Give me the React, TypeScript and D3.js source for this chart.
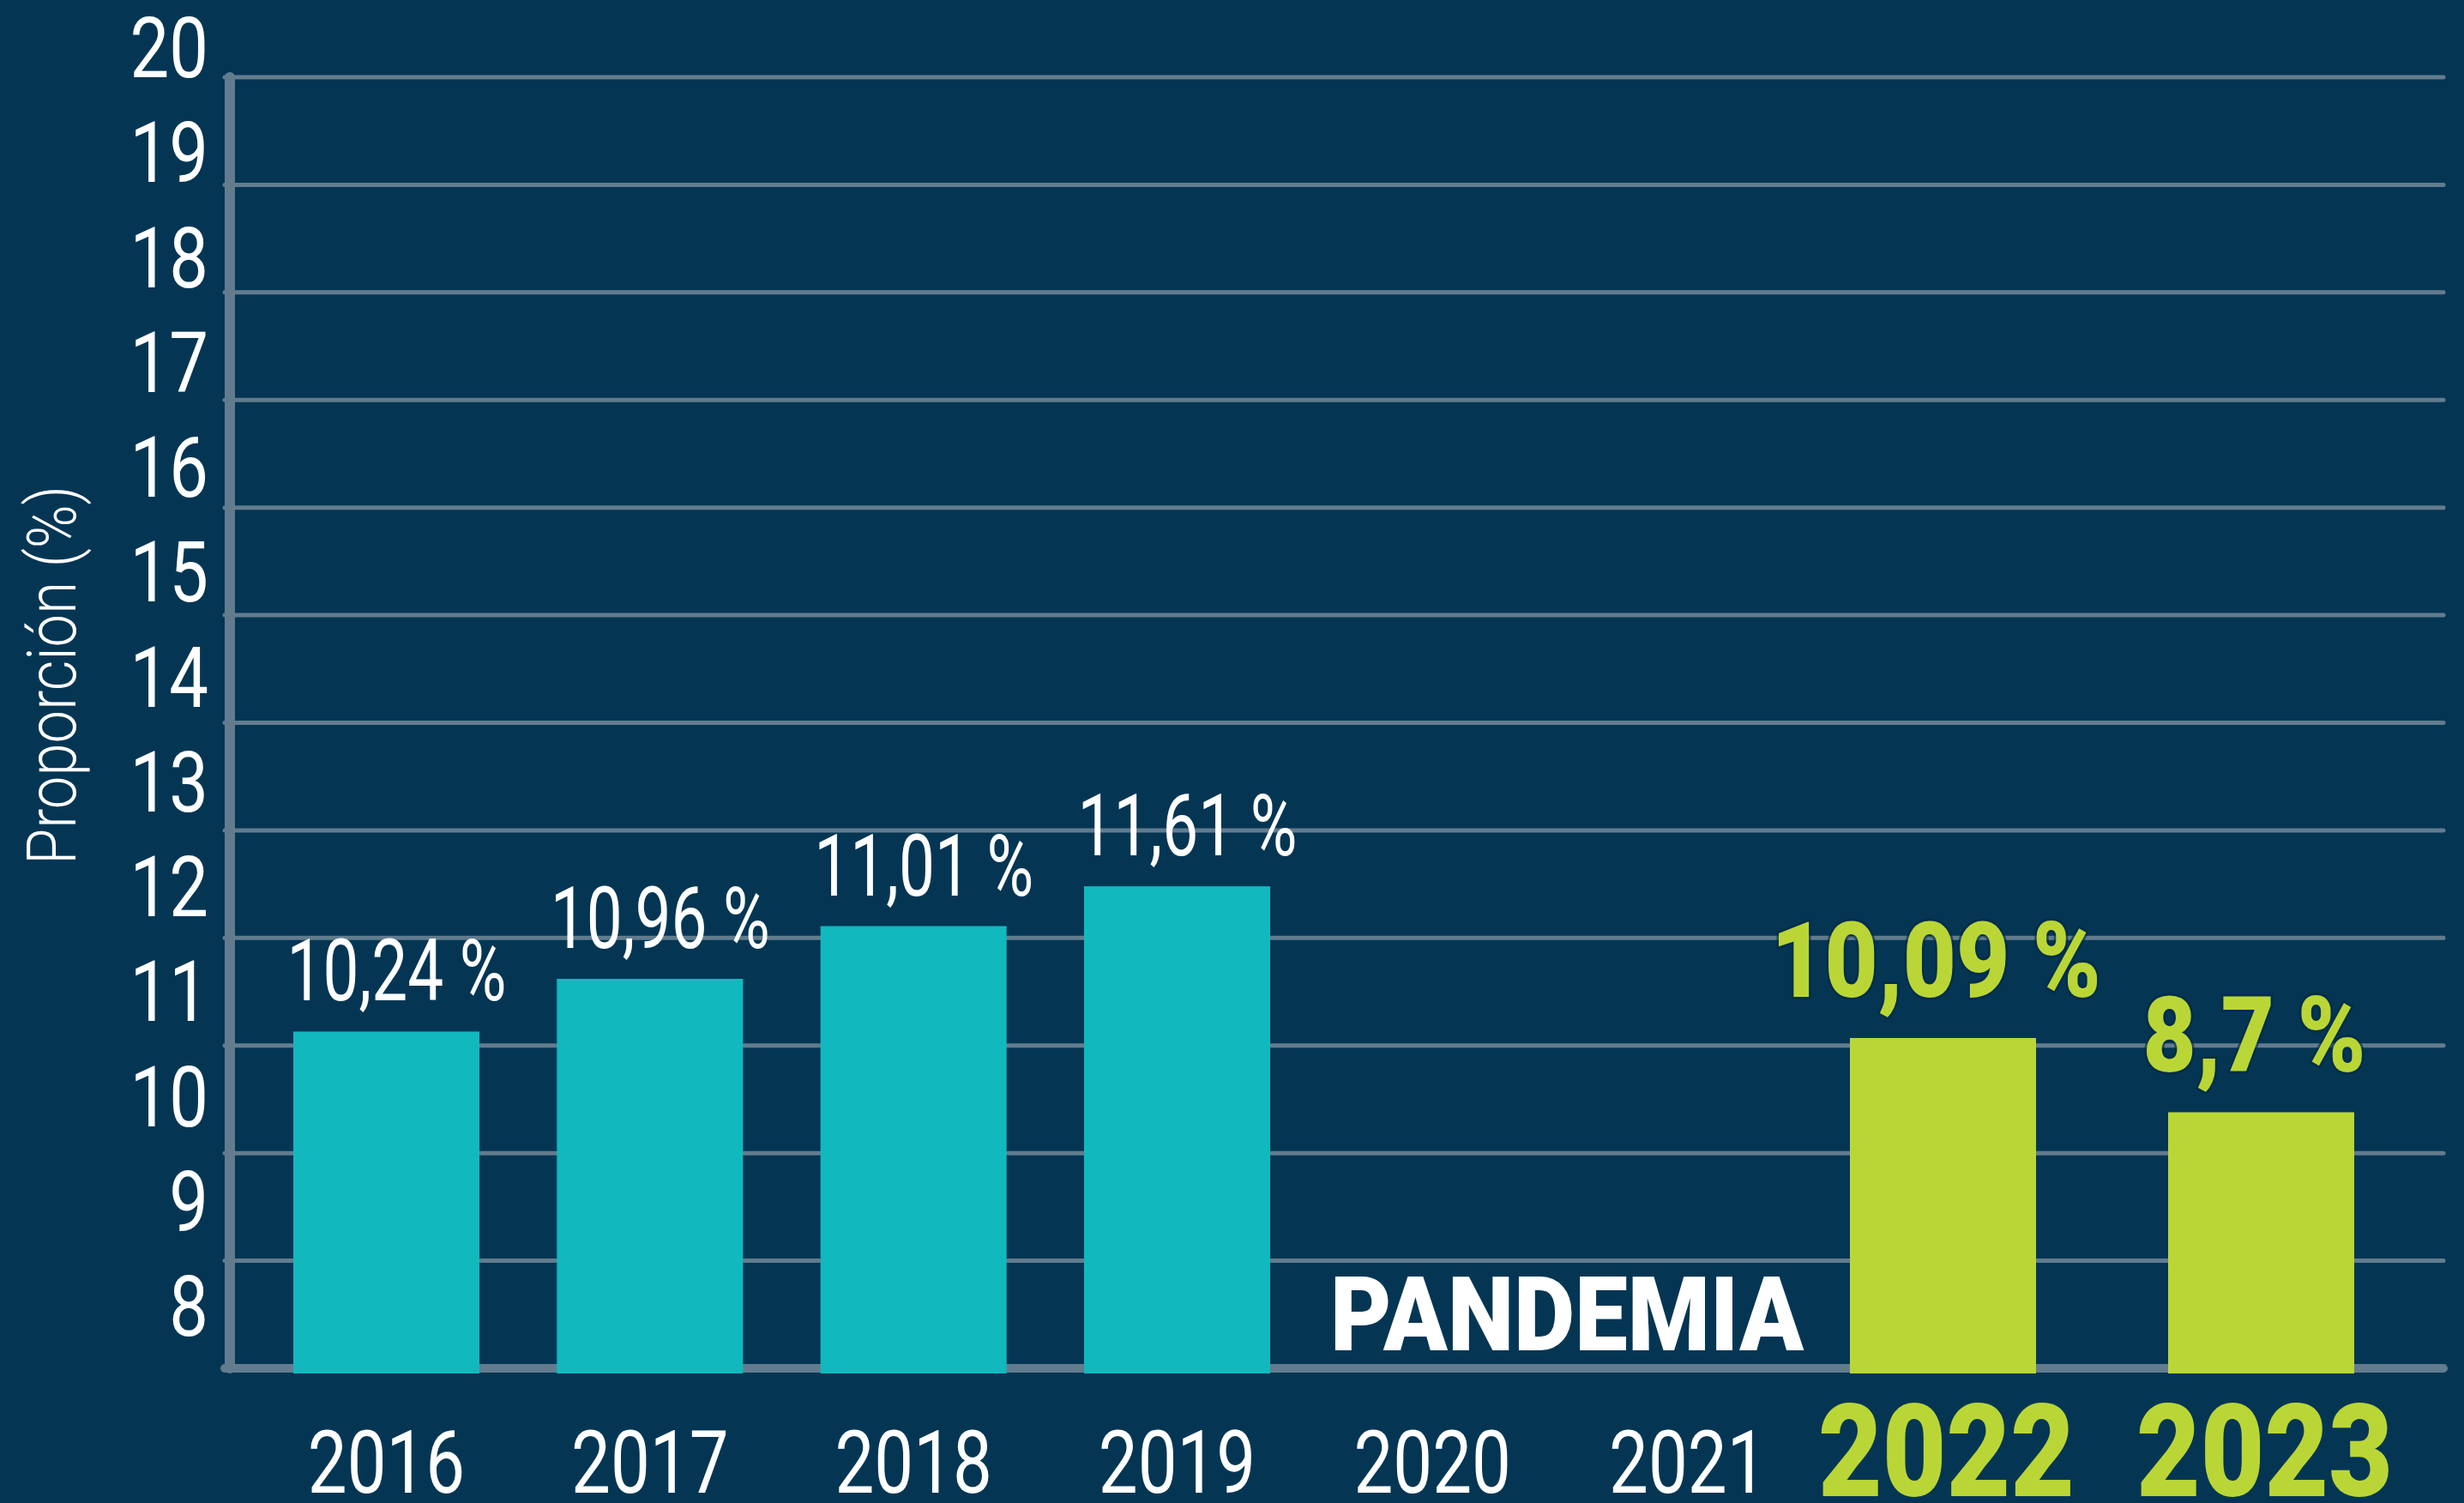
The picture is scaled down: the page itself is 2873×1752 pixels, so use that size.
import React from 'react';
import * as d3 from 'd3';

// ---- data ----
const years = [2016, 2017, 2018, 2019, 2020, 2021, 2022, 2023];
const barYears = [2016, 2017, 2018, 2019, 2022, 2023];
// bar heights as drawn in the picture (axis units)
const barHeights = [10.13, 10.62, 11.11, 11.48, 10.07, 9.38];
const barLabels = ['10,24 %', '10,96 %', '11,01 %', '11,61 %', '10,09 %', '8,7 %'];
const highlightYears = [2022, 2023];
const gapYears = [2020, 2021];
const gapLabel = 'PANDEMIA';
const gridValues = d3.range(7, 20);
const tickLabels = d3.range(8, 21);
const yTitle = 'Proporción (%)';

// ---- styles ----
const W = 2873;
const H = 1752;
const BG = '#043654';
const TEAL = '#11B9BE';
const GREEN = '#BAD636';
const GRID = '#627C8E';
const FONT = 'Roboto, "Noto Sans", sans-serif';

export default function App() {
  const x = d3
    .scaleLinear()
    .domain([2016, 2019, 2022, 2023])
    .range([450.5, 1372.5, 2265.5, 2636.5]);
  const y = d3.scaleLinear().domain([7, 19]).range([1595, 90]);
  const yLabel = d3.scaleLinear().domain([8, 20]).range([1557, 90]);

  const barW = 217;
  const axisX = 268;
  const gridX1 = 262;
  const gridX2 = 2849;
  const isHi = (yr: number) => highlightYears.includes(yr);

  const bars = barYears.map((yr, i) => ({ yr, v: barHeights[i], label: barLabels[i] }));
  const gapX = (x(gapYears[0]) + x(gapYears[1])) / 2 + 8;

  return (
    <svg
      width={W}
      height={H}
      viewBox={`0 0 ${W} ${H}`}
      style={{ position: 'absolute', left: 0, top: 0, display: 'block' }}
      fontFamily={FONT}
    >
      <rect x={0} y={0} width={W} height={H} fill={BG} />

      {/* gridlines */}
      {gridValues.map((g) => (
        <line
          key={`g${g}`}
          x1={gridX1}
          x2={gridX2}
          y1={y(g)}
          y2={y(g)}
          stroke={GRID}
          strokeWidth={g === 7 ? 10 : 5}
          strokeLinecap="round"
        />
      ))}
      {/* y axis line */}
      <line
        x1={axisX}
        x2={axisX}
        y1={y(19)}
        y2={y(7)}
        stroke={GRID}
        strokeWidth={12}
        strokeLinecap="round"
      />

      {/* bars */}
      {bars.map((b) => (
        <rect
          key={`b${b.yr}`}
          x={x(b.yr) - barW / 2}
          y={y(b.v)}
          width={barW}
          height={y(7) + 6 - y(b.v)}
          fill={isHi(b.yr) ? GREEN : TEAL}
        />
      ))}

      {/* value labels */}
      {bars.map((b) =>
        isHi(b.yr) ? (
          <text
            key={`l${b.yr}`}
            transform={`translate(${x(b.yr) - 8},${y(b.v) - 48}) scale(0.88,1)`}
            textAnchor="middle"
            fontSize={122}
            fontWeight={900}
            fill={GREEN}
            stroke="#022a44"
            strokeWidth={6}
            strokeOpacity={0.6}
            paintOrder="stroke"
          >
            {b.label}
          </text>
        ) : (
          <text
            key={`l${b.yr}`}
            transform={`translate(${x(b.yr) + 12},${y(b.v) - 36}) scale(0.74,1)`}
            textAnchor="middle"
            fontSize={101}
            fontWeight={400}
            fill="#ffffff"
          >
            {b.label}
          </text>
        )
      )}

      {/* y tick labels */}
      {tickLabels.map((t) => (
        <text
          key={`t${t}`}
          transform={`translate(243,${yLabel(t)}) scale(0.83,1)`}
          textAnchor="end"
          fontSize={98}
          fill="#ffffff"
        >
          {t}
        </text>
      ))}

      {/* x labels */}
      {years.map((yr) =>
        isHi(yr) ? (
          <text
            key={`x${yr}`}
            transform={`translate(${x(yr) + 4},1744) scale(0.86,1)`}
            textAnchor="middle"
            fontSize={150}
            fontWeight={900}
            fill={GREEN}
          >
            {yr}
          </text>
        ) : (
          <text
            key={`x${yr}`}
            transform={`translate(${x(yr)},1740) scale(0.8,1)`}
            textAnchor="middle"
            fontSize={102}
            fill="#ffffff"
          >
            {yr}
          </text>
        )
      )}

      {/* gap label */}
      <text
        x={gapX}
        y={1574}
        textAnchor="middle"
        fontSize={121}
        fontWeight={900}
        fill="#ffffff"
        textLength={552}
        lengthAdjust="spacingAndGlyphs"
      >
        {gapLabel}
      </text>

      {/* y title */}
      <text
        transform={`translate(88,787) rotate(-90) scale(0.86,1)`}
        textAnchor="middle"
        fontSize={80}
        fontWeight={300}
        fill="#ffffff"
      >
        {yTitle}
      </text>
    </svg>
  );
}
